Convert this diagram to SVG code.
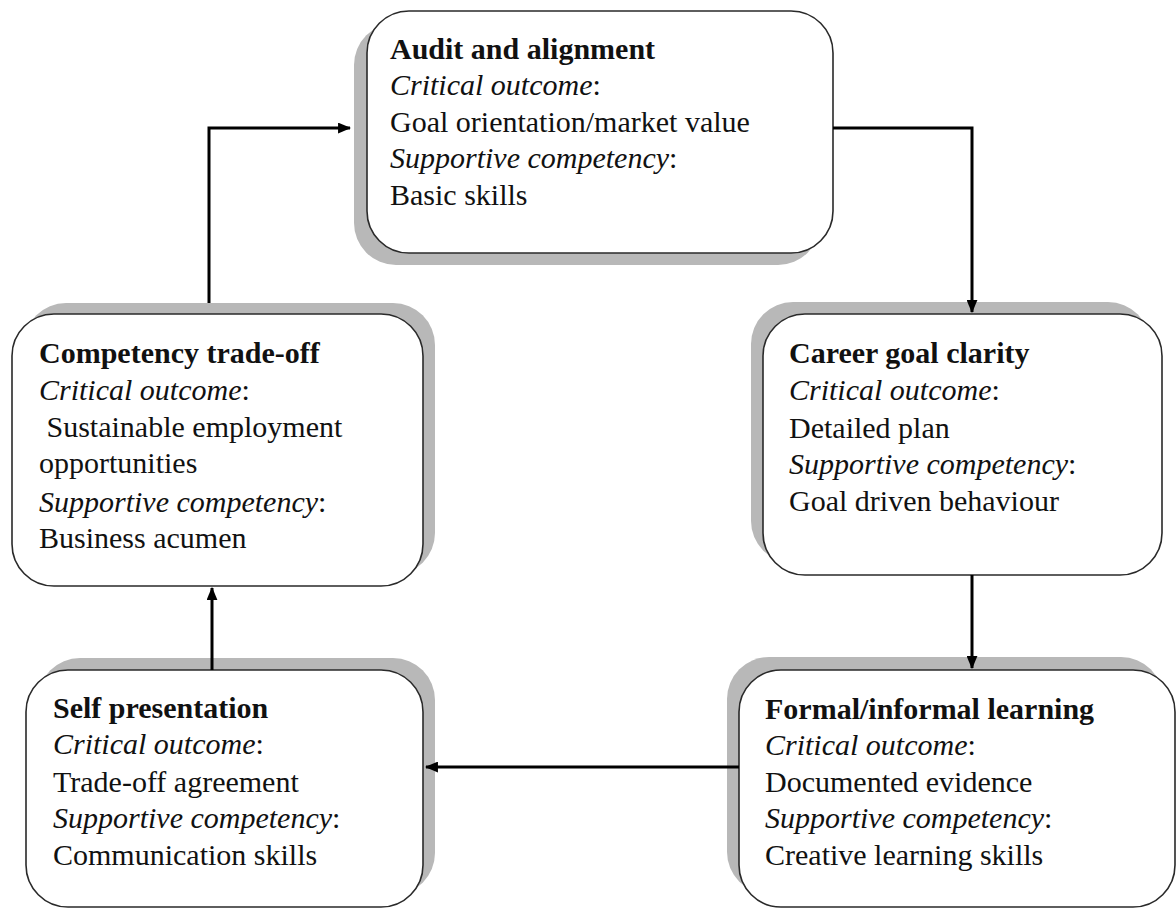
<svg xmlns="http://www.w3.org/2000/svg" width="1176" height="909" viewBox="0 0 1176 909">
<defs>
<style>
.shadow{fill:#b8b8b8;}
.box{fill:#ffffff;stroke:#2a2a2a;stroke-width:1.6;}
text{font-family:"Liberation Serif","Times New Roman",serif;font-size:30px;fill:#111;}
.b{font-weight:bold;}
.i{font-style:italic;}
.conn{fill:none;stroke:#000;stroke-width:3;}
</style>
<marker id="arr" viewBox="0 0 12 10" refX="11" refY="5" markerWidth="13" markerHeight="11" orient="auto" markerUnits="userSpaceOnUse">
<path d="M0,0 L12,5 L0,10 z" fill="#000"/>
</marker>
</defs>
<rect width="1176" height="909" fill="#ffffff"/>

<g id="audit">
<rect class="shadow" x="354" y="23" width="466" height="242" rx="42"/>
<rect class="box" x="367" y="11" width="466" height="242" rx="42"/>
<text x="390" y="59" class="b">Audit and alignment</text>
<text x="390" y="95"><tspan class="i">Critical outcome</tspan>:</text>
<text x="390" y="132">Goal orientation/market value</text>
<text x="390" y="168"><tspan class="i">Supportive competency</tspan>:</text>
<text x="390" y="205">Basic skills</text>
</g>

<g id="competency">
<rect class="shadow" x="24" y="303" width="411" height="272" rx="42"/>
<rect class="box" x="12" y="314" width="411" height="272" rx="42"/>
<text x="39" y="363" class="b">Competency trade-off</text>
<text x="39" y="400"><tspan class="i">Critical outcome</tspan>:</text>
<text x="39" y="437" xml:space="preserve"> Sustainable employment</text>
<text x="39" y="473">opportunities</text>
<text x="39" y="512"><tspan class="i">Supportive competency</tspan>:</text>
<text x="39" y="548">Business acumen</text>
</g>

<g id="career">
<rect class="shadow" x="751" y="302" width="399" height="261" rx="42"/>
<rect class="box" x="763" y="314" width="399" height="261" rx="42"/>
<text x="789" y="363" class="b">Career goal clarity</text>
<text x="789" y="400"><tspan class="i">Critical outcome</tspan>:</text>
<text x="789" y="438">Detailed plan</text>
<text x="789" y="474"><tspan class="i">Supportive competency</tspan>:</text>
<text x="789" y="511">Goal driven behaviour</text>
</g>

<g id="self">
<rect class="shadow" x="38" y="658" width="397" height="237" rx="42"/>
<rect class="box" x="26" y="670" width="397" height="237" rx="42"/>
<text x="53" y="718" class="b">Self presentation</text>
<text x="53" y="754"><tspan class="i">Critical outcome</tspan>:</text>
<text x="53" y="792">Trade-off agreement</text>
<text x="53" y="828"><tspan class="i">Supportive competency</tspan>:</text>
<text x="53" y="865">Communication skills</text>
</g>

<g id="formal">
<rect class="shadow" x="727" y="657" width="436" height="237" rx="42"/>
<rect class="box" x="739" y="670" width="436" height="237" rx="42"/>
<text x="765" y="719" class="b">Formal/informal learning</text>
<text x="765" y="755"><tspan class="i">Critical outcome</tspan>:</text>
<text x="765" y="792">Documented evidence</text>
<text x="765" y="828"><tspan class="i">Supportive competency</tspan>:</text>
<text x="765" y="865">Creative learning skills</text>
</g>

<g id="connectors">
<path class="conn" d="M209,303 L209,128 L350,128" marker-end="url(#arr)"/>
<path class="conn" d="M833,128 L972,128 L972,312" marker-end="url(#arr)"/>
<path class="conn" d="M972,575 L972,668" marker-end="url(#arr)"/>
<path class="conn" d="M739,767 L426,767" marker-end="url(#arr)"/>
<path class="conn" d="M212,670 L212,588" marker-end="url(#arr)"/>
</g>
</svg>
